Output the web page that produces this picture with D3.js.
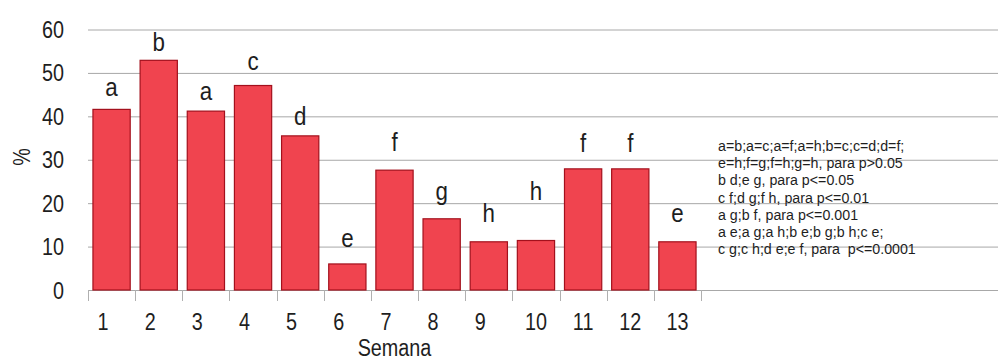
<!DOCTYPE html>
<html>
<head>
<meta charset="utf-8">
<script src="https://cdn.jsdelivr.net/npm/d3@7"></script>
<style>
  body { margin: 0; background: #fff; }
  svg { display: block; }
  text { font-family: "Liberation Sans", Arial, sans-serif; fill: #1e1e1e; }
</style>
</head>
<body>
<svg width="998" height="361"></svg>
<script>
// data
const semanas = ["1", "2", "3", "4", "5", "6", "7", "8", "9", "10", "11", "12", "13"];
const valores = [41.6, 52.9, 41.2, 47.1, 35.5, 6.0, 27.6, 16.4, 11.1, 11.4, 27.9, 27.9, 11.1];
const letras = ["a", "b", "a", "c", "d", "e", "f", "g", "h", "h", "f", "f", "e"];
const letraNivel = [44.7, 55.0, 43.8, 50.7, 38.0, 9.9, 32.0, 20.7, 15.7, 20.7, 31.8, 31.8, 15.7];
const yTicks = [0, 10, 20, 30, 40, 50, 60];
const notas = [
  "a=b;a=c;a=f;a=h;b=c;c=d;d=f;",
  "e=h;f=g;f=h;g=h, para p>0.05",
  "b d;e g, para p<=0.05",
  "c f;d g;f h, para p<=0.01",
  "a g;b f, para p<=0.001",
  "a e;a g;a h;b e;b g;b h;c e;",
  "c g;c h;d e;e f, para  p<=0.0001"
];

const svg = d3.select("svg");
const plotLeft = 88, plotRight = 701, gridEnd = 998;
const plotTop = 29.5, plotBottom = 290;
const narrow = 0.86; // the original uses a condensed face

const x = d3.scaleBand()
  .domain(semanas)
  .range([plotLeft, plotRight])
  .paddingInner(0.21)
  .paddingOuter(0.105);

const y = d3.scaleLinear()
  .domain([0, 60])
  .range([plotBottom, plotTop]);

// gridlines
svg.append("g")
  .selectAll("line")
  .data(yTicks)
  .join("line")
  .attr("x1", plotLeft)
  .attr("x2", gridEnd)
  .attr("y1", d => y(d) + 0.5)
  .attr("y2", d => y(d) + 0.5)
  .attr("stroke", "#a8a8a8")
  .attr("stroke-width", 1);

// y labels
svg.append("g")
  .selectAll("text")
  .data(yTicks)
  .join("text")
  .attr("transform", d => `translate(64, ${y(d) + 8.5}) scale(${narrow}, 1)`)
  .attr("text-anchor", "end")
  .attr("font-size", 23)
  .text(d => d);

// bars
svg.append("g")
  .selectAll("rect")
  .data(valores)
  .join("rect")
  .attr("x", (d, i) => x(semanas[i]))
  .attr("y", d => y(d))
  .attr("width", x.bandwidth())
  .attr("height", d => y(0) - y(d))
  .attr("fill", "#f0444f")
  .attr("stroke", "#a3101c")
  .attr("stroke-width", 1.2);

// significance letters
svg.append("g")
  .selectAll("text")
  .data(letras)
  .join("text")
  .attr("transform", (d, i) => `translate(${x(semanas[i]) + x.bandwidth() / 2}, ${y(letraNivel[i])}) scale(${narrow}, 1)`)
  .attr("text-anchor", "middle")
  .attr("font-size", 26)
  .text(d => d);

// x tick marks at band boundaries
const step = x.step();
const edges = semanas.map(s => x(s) - step * x.paddingInner() / 2);
edges.push(plotRight);
svg.append("g")
  .selectAll("line")
  .data(edges)
  .join("line")
  .attr("x1", d => Math.round(d) + 0.5)
  .attr("x2", d => Math.round(d) + 0.5)
  .attr("y1", plotBottom)
  .attr("y2", plotBottom + 11)
  .attr("stroke", "#b0b0b0");

// x labels
const xAxis = d3.axisBottom(x).tickSize(0).tickPadding(0);
const gx = svg.append("g")
  .attr("transform", `translate(0, ${plotBottom})`)
  .call(xAxis);
gx.select(".domain").remove();
gx.attr("font-family", null).attr("font-size", null);
gx.selectAll("text")
  .attr("font-size", 23)
  .attr("dy", null)
  .attr("y", 40)
  .attr("dx", d => d.length === 1 ? -10 : 0)
  .attr("transform", `scale(${narrow}, 1)`)
  .attr("fill", "#1e1e1e");

// axis titles
svg.append("text")
  .attr("transform", `translate(${(plotLeft + plotRight) / 2}, 356) scale(${narrow}, 1)`)
  .attr("text-anchor", "middle")
  .attr("font-size", 23)
  .text("Semana");

svg.append("text")
  .attr("transform", `translate(30, 157) rotate(-90) scale(${narrow}, 1)`)
  .attr("text-anchor", "middle")
  .attr("font-size", 23)
  .text("%");

// notes box
svg.append("g")
  .selectAll("text")
  .data(notas)
  .join("text")
  .attr("transform", (d, i) => `translate(718, ${151 + i * 17.2}) scale(0.95, 1)`)
  .attr("font-size", 15)
  .attr("fill", "#3a3a3a")
  .style("white-space", "pre")
  .text(d => d);
</script>
</body>
</html>
